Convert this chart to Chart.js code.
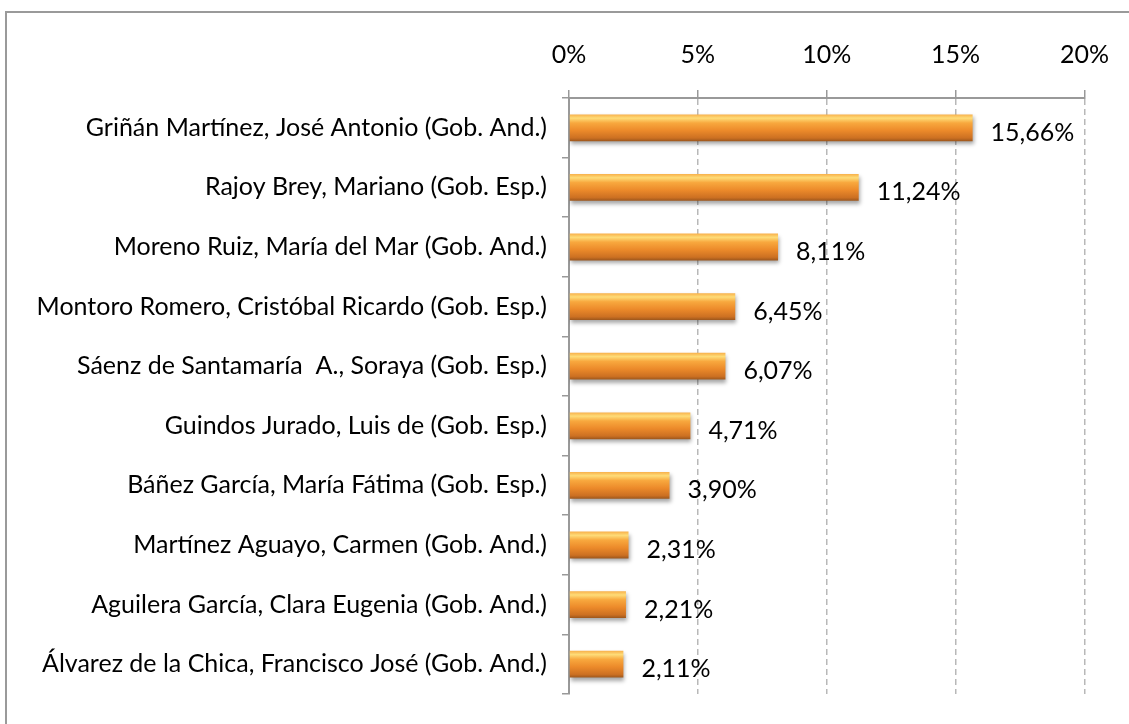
<!DOCTYPE html>
<html>
<head>
<meta charset="utf-8">
<script src="https://cdn.jsdelivr.net/npm/chart.js@4.4.0/dist/chart.umd.min.js"></script>
<style>
  html, body { margin: 0; padding: 0; background: #fff; }
  #wrap { position: relative; width: 1129px; height: 724px; overflow: hidden; }
  #frame { position: absolute; left: 5px; top: 11px; width: 1200px; height: 800px;
           border-top: 2px solid #9a9a9a; border-left: 2px solid #9a9a9a; }
  canvas { position: absolute; left: 0; top: 0; }
</style>
</head>
<body>
<div id="wrap">
  <div id="frame"></div>
  <canvas id="chart" width="1129" height="724"></canvas>
</div>
<script>
const names = [
    'Griñán Martínez, José Antonio (Gob. And.)',
    'Rajoy Brey, Mariano (Gob. Esp.)',
    'Moreno Ruiz, María del Mar (Gob. And.)',
    'Montoro Romero, Cristóbal Ricardo (Gob. Esp.)',
    'Sáenz de Santamaría  A., Soraya (Gob. Esp.)',
    'Guindos Jurado, Luis de (Gob. Esp.)',
    'Báñez García, María Fátima (Gob. Esp.)',
    'Martínez Aguayo, Carmen (Gob. And.)',
    'Aguilera García, Clara Eugenia (Gob. And.)',
    'Álvarez de la Chica, Francisco José (Gob. And.)'
];
const shares = [15.66, 11.24, 8.11, 6.45, 6.07, 4.71, 3.90, 2.31, 2.21, 2.11];
const axis_min = 0;
const axis_max = 20;
const axis_step = 5;

const font_family = 'Lato, "Open Sans", sans-serif';
const font_size = 25;
const bar_fraction = 0.45;

function pct_label(v) {
    return v.toFixed(2).replace('.', ',') + '%';
}

function bar_fill(ctx) {
    const chart = ctx.chart;
    const y_scale = chart.scales.y;
    if (!y_scale || ctx.dataIndex === undefined) return '#ee8a2c';
    const cy = y_scale.getPixelForValue(ctx.dataIndex);
    const band = y_scale.getPixelForValue(1) - y_scale.getPixelForValue(0);
    if (!isFinite(cy) || !isFinite(band) || band === 0) return '#ee8a2c';
    const half = Math.abs(band) * bar_fraction / 2;
    const g = chart.ctx.createLinearGradient(0, cy - half, 0, cy + half);
    g.addColorStop(0, '#f8b04a');
    g.addColorStop(0.14, '#fedc78');
    g.addColorStop(0.32, '#f8a83e');
    g.addColorStop(0.6, '#ec8a2a');
    g.addColorStop(0.88, '#cc7022');
    g.addColorStop(1, '#9c561c');
    return g;
}

// soft drop shadow under the bars
const bar_shadow = {
    id: 'bar_shadow',
    beforeDatasetsDraw(chart) {
        const c = chart.ctx;
        c.save();
        c.shadowColor = 'rgba(0,0,0,0.35)';
        c.shadowBlur = 4;
        c.shadowOffsetX = 1;
        c.shadowOffsetY = 3;
    },
    afterDatasetsDraw(chart) {
        chart.ctx.restore();
    }
};

// value labels to the right of each bar
const value_labels = {
    id: 'value_labels',
    afterDatasetsDraw(chart) {
        const c = chart.ctx;
        const meta = chart.getDatasetMeta(0);
        c.save();
        c.font = font_size + 'px ' + font_family;
        c.fillStyle = '#000';
        c.textAlign = 'left';
        c.textBaseline = 'middle';
        meta.data.forEach((bar, i) => {
            c.fillText(pct_label(shares[i]), bar.x + 18, bar.y + 5);
        });
        c.restore();
    }
};

new Chart(document.getElementById('chart'), {
    type: 'bar',
    data: {
        labels: names,
        datasets: [{
            data: shares,
            backgroundColor: bar_fill,
            borderWidth: 0,
            categoryPercentage: 1,
            barPercentage: bar_fraction
        }]
    },
    options: {
        indexAxis: 'y',
        responsive: false,
        animation: false,
        layout: { padding: { left: 0, top: 0, right: 40, bottom: 22 } },
        plugins: {
            legend: { display: false },
            tooltip: { enabled: false }
        },
        scales: {
            x: {
                position: 'top',
                min: axis_min,
                max: axis_max,
                afterFit(scale) { scale.height = 98; },
                ticks: {
                    stepSize: axis_step,
                    color: '#000',
                    padding: 20,
                    font: { family: font_family, size: font_size },
                    callback: v => v + '%'
                },
                grid: {
                    color: '#b8b8b8',
                    lineWidth: 1.5,
                    tickLength: 8,
                    tickColor: '#999'
                },
                border: { display: true, color: '#999', width: 2, dash: [6, 4] }
            },
            y: {
                afterFit(scale) { scale.width = 569; },
                ticks: {
                    color: '#000',
                    padding: 15,
                    font: { family: font_family, size: font_size }
                },
                grid: {
                    offset: true,
                    drawOnChartArea: false,
                    tickLength: 7,
                    color: '#999',
                    lineWidth: 1.5
                },
                border: { display: true, color: '#999', width: 2 }
            }
        }
    },
    plugins: [bar_shadow, value_labels]
});
</script>
</body>
</html>
